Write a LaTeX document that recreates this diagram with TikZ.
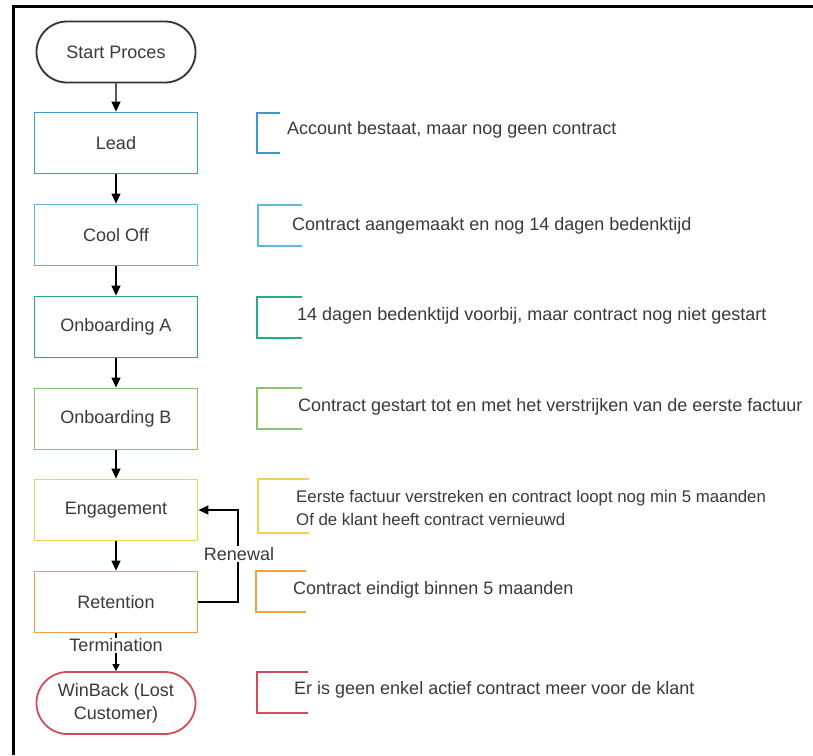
\documentclass[tikz,border=0pt]{standalone}
\usepackage{fontspec}
\setmainfont{Liberation Sans}
\usetikzlibrary{arrows.meta,shapes.misc,positioning}
\definecolor{ink}{HTML}{3A3A3A}
\definecolor{cLead}{HTML}{3E9BC9}
\definecolor{cCool}{HTML}{5DB9E0}
\definecolor{cOnbA}{HTML}{2EA88C}
\definecolor{cOnbB}{HTML}{8DC26F}
\definecolor{cEng}{HTML}{F4D055}
\definecolor{cRet}{HTML}{EFA048}
\definecolor{cWin}{HTML}{D24C5E}
\tikzset{
  stage/.style={draw=#1, line width=1.8pt, minimum width=163pt, minimum height=61pt,
    text=ink, font=\fontsize{18}{22}\selectfont, align=center, inner sep=2pt},
  terminal/.style={stage=#1, rounded rectangle},
  note/.style={anchor=west, text=ink, font=\fontsize{18}{22}\selectfont, align=left, inner sep=0pt},
  flow/.style={line width=1.3pt, draw=black, -{Triangle[width=9pt,length=10pt]}},
  brace/.style={line width=1.6pt, draw=#1},
  tag/.style={fill=white, text=ink, font=\fontsize{18}{20}\selectfont, inner sep=1pt}
}
\begin{document}
\begin{tikzpicture}[x=1pt,y=-1pt]
  \useasboundingbox (0,0) rectangle (813,755);
  \fill[white] (0,0) rectangle (813,755);
  % outer frame
  \draw[line width=3pt, black] (13,755) -- (13,6) -- (813,6);

  % stages
  \node[terminal=black!80] (start) at (116,52) {Start Proces};
  \node[stage=cLead] (lead) at (116,143) {Lead};
  \node[stage=cCool] (cool) at (116,235) {Cool Off};
  \node[stage=cOnbA] (onba) at (116,327) {Onboarding A};
  \node[stage=cOnbB] (onbb) at (116,419) {Onboarding B};
  \node[stage=cEng] (eng) at (116,510) {Engagement};
  \node[stage=cRet] (ret) at (116,602) {Retention};
  \node[terminal=cWin, minimum height=62pt, font=\fontsize{18}{23}\selectfont] (win) at (116,703) {WinBack (Lost\\Customer)};

  % main flow
  \draw[flow] (start) -- (lead);
  \draw[flow] (lead) -- (cool);
  \draw[flow] (cool) -- (onba);
  \draw[flow] (onba) -- (onbb);
  \draw[flow] (onbb) -- (eng);
  \draw[flow] (eng) -- (ret);
  \draw[line width=1.3pt, -{Triangle[width=7pt,length=7pt]}] (ret) -- (win)
    node[tag, pos=0.32] {Termination};

  % renewal loop
  \coordinate (rloop) at (238,602);
  \draw[flow] (ret.east) -- (rloop) -- (238,510) -- (eng.east);
  \node[tag] (renewal) at (239,554) {Renewal};

  % side notes with open brackets
  \draw[brace=cLead] (280,113) -- (257,113) -- (257,153) -- (280,153);
  \node[note] (nlead) at (287,130) {Account bestaat, maar nog geen contract};

  \draw[brace=cCool] (302,205) -- (258,205) -- (258,246) -- (302,246);
  \node[note] (ncool) at (292,226) {Contract aangemaakt en nog 14 dagen bedenktijd};

  \draw[brace=cOnbA] (302,297) -- (257,297) -- (257,338) -- (302,338);
  \node[note] (nonba) at (297,316) {14 dagen bedenktijd voorbij, maar contract nog niet gestart};

  \draw[brace=cOnbB] (302,388) -- (257,388) -- (257,429) -- (302,429);
  \node[note] (nonbb) at (298,407) {Contract gestart tot en met het verstrijken van de eerste factuur};

  \draw[brace=cEng] (309,479) -- (258,479) -- (258,533) -- (309,533);
  \node[note, font=\fontsize{16.8}{23}\selectfont] (neng) at (296,508) {Eerste factuur verstreken en contract loopt nog min 5 maanden\\Of de klant heeft contract vernieuwd};

  \draw[brace=cRet] (306,571) -- (256,571) -- (256,612) -- (306,612);
  \node[note] (nret) at (293,590) {Contract eindigt binnen 5 maanden};

  \draw[brace=cWin] (308,672) -- (257,672) -- (257,713) -- (308,713);
  \node[note] (nwin) at (294,690) {Er is geen enkel actief contract meer voor de klant};
\end{tikzpicture}
\end{document}
